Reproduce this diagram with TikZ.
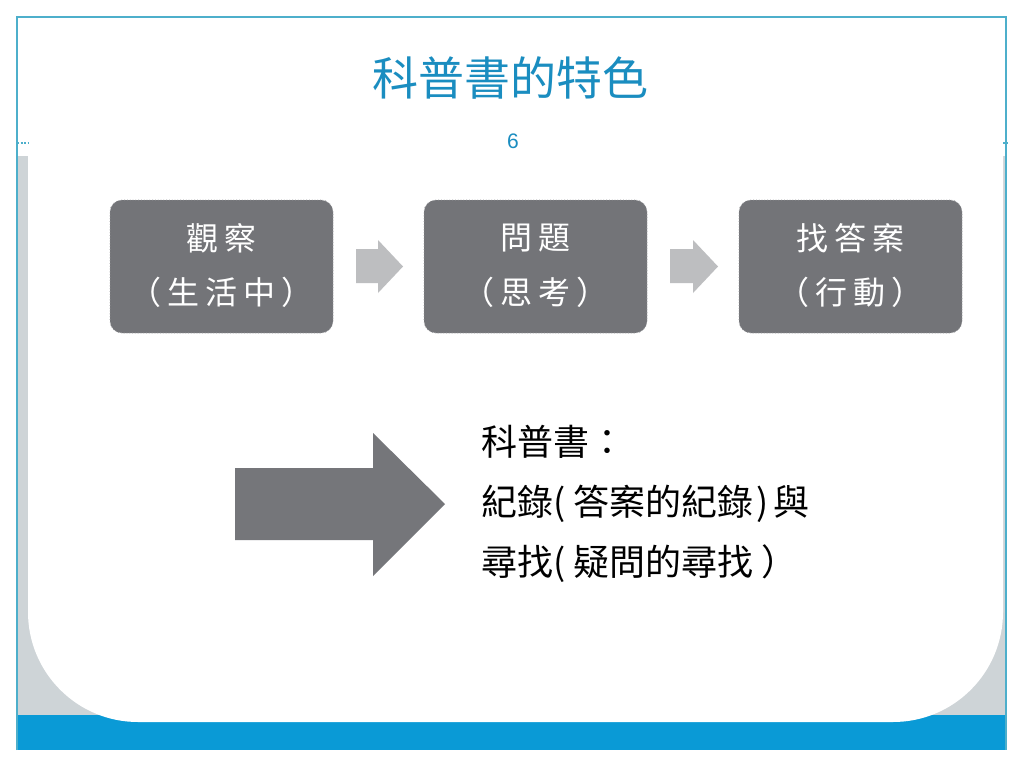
\documentclass[tikz,border=0pt]{standalone}
\usepackage{fontspec}
\setmainfont{Noto Sans CJK TC}
\newfontfamily\numfont{Liberation Sans}
\definecolor{framec}{HTML}{4DAFCB}
\definecolor{greybg}{HTML}{CED4D7}
\definecolor{bluebar}{HTML}{0A9AD6}
\definecolor{titlec}{HTML}{1A8DC0}
\definecolor{boxc}{HTML}{737478}
\definecolor{boxedge}{HTML}{9A9B9E}
\definecolor{smallarr}{HTML}{BDBEC0}
\definecolor{bigarr}{HTML}{75767A}
\newcommand\gk{\kern6pt}
\newcommand\pk{\kern8pt}
\begin{document}
\begin{tikzpicture}[x=1pt,y=-1pt,
  stepbox/.style={fill=boxc,draw=boxedge,dotted,line width=0.8pt,rounded corners=12pt,minimum width=223pt,minimum height=133pt,inner sep=0pt},
  boxtxt/.style={text=white,font=\fontsize{32}{36}\selectfont,inner sep=0pt},
  bodytxt/.style={text=black,font=\fontsize{36}{40}\selectfont,inner sep=0pt,anchor=west}]
\useasboundingbox (0,0) rectangle (1024,768);
\fill[white] (0,0) rectangle (1024,768);
% background layers
\fill[greybg] (17,156) rectangle (1006,715);
\fill[bluebar] (17,715) rectangle (1006,750);
\fill[white] (28,150) -- (28,612) arc[start angle=180,end angle=90,radius=110] -- (893,722) arc[start angle=90,end angle=0,radius=110] -- (1003,150) -- cycle;
% frame
\draw[framec,line width=1.2pt] (17,750) -- (17,17) -- (1006,17) -- (1006,750);
\draw[framec,line width=1.2pt,dash pattern=on 2pt off 1.5pt] (17,143) -- (28,143);
\draw[framec,line width=1.2pt,dash pattern=on 2pt off 1.5pt] (1003,143) -- (1008,143);
% title
\node[text=titlec,font=\fontsize{46}{50}\selectfont,inner sep=0pt] (title) at (510,78) {科普書的特色};
\node[text=titlec,font=\numfont\fontsize{21}{24}\selectfont,inner sep=0pt] (num) at (513,141) {6};
% boxes
\node[stepbox] (b1) at (221.5,266.5) {};
\node[stepbox] (b2) at (535.5,266.5) {};
\node[stepbox] (b3) at (850.5,266.5) {};
\node[boxtxt] (b1a) at (221.5,238) {觀\gk 察};
\node[boxtxt] (b1b) at (221.5,292) {（\gk 生\gk 活\gk 中\gk ）};
\node[boxtxt] (b2a) at (535.5,238) {問\gk 題};
\node[boxtxt] (b2b) at (535.5,292) {（\gk 思\gk 考\gk ）};
\node[boxtxt] (b3a) at (850.5,238) {找\gk 答\gk 案};
\node[boxtxt] (b3b) at (850.5,292) {（\gk 行\gk 動\gk ）};
% small arrows
\fill[smallarr] (356,249) -- (378,249) -- (378,240) -- (403,266.5) -- (378,293) -- (378,283) -- (356,283) -- cycle;
\fill[smallarr] (670,249) -- (693,249) -- (693,240) -- (718,266.5) -- (693,293) -- (693,283) -- (670,283) -- cycle;
% big arrow
\fill[bigarr] (235,468) -- (373,468) -- (373,433) -- (445,504) -- (373,576) -- (373,540) -- (235,540) -- cycle;
% text
\node[bodytxt] (t1) at (481,442) {科普書：};
\node[bodytxt] (t2) at (481,504) {紀錄(\pk 答案的紀錄\kern3pt)\kern5pt 與};
\node[bodytxt] (t3) at (481,564) {尋找(\pk 疑問的尋找\pk ）};
\end{tikzpicture}
\end{document}
